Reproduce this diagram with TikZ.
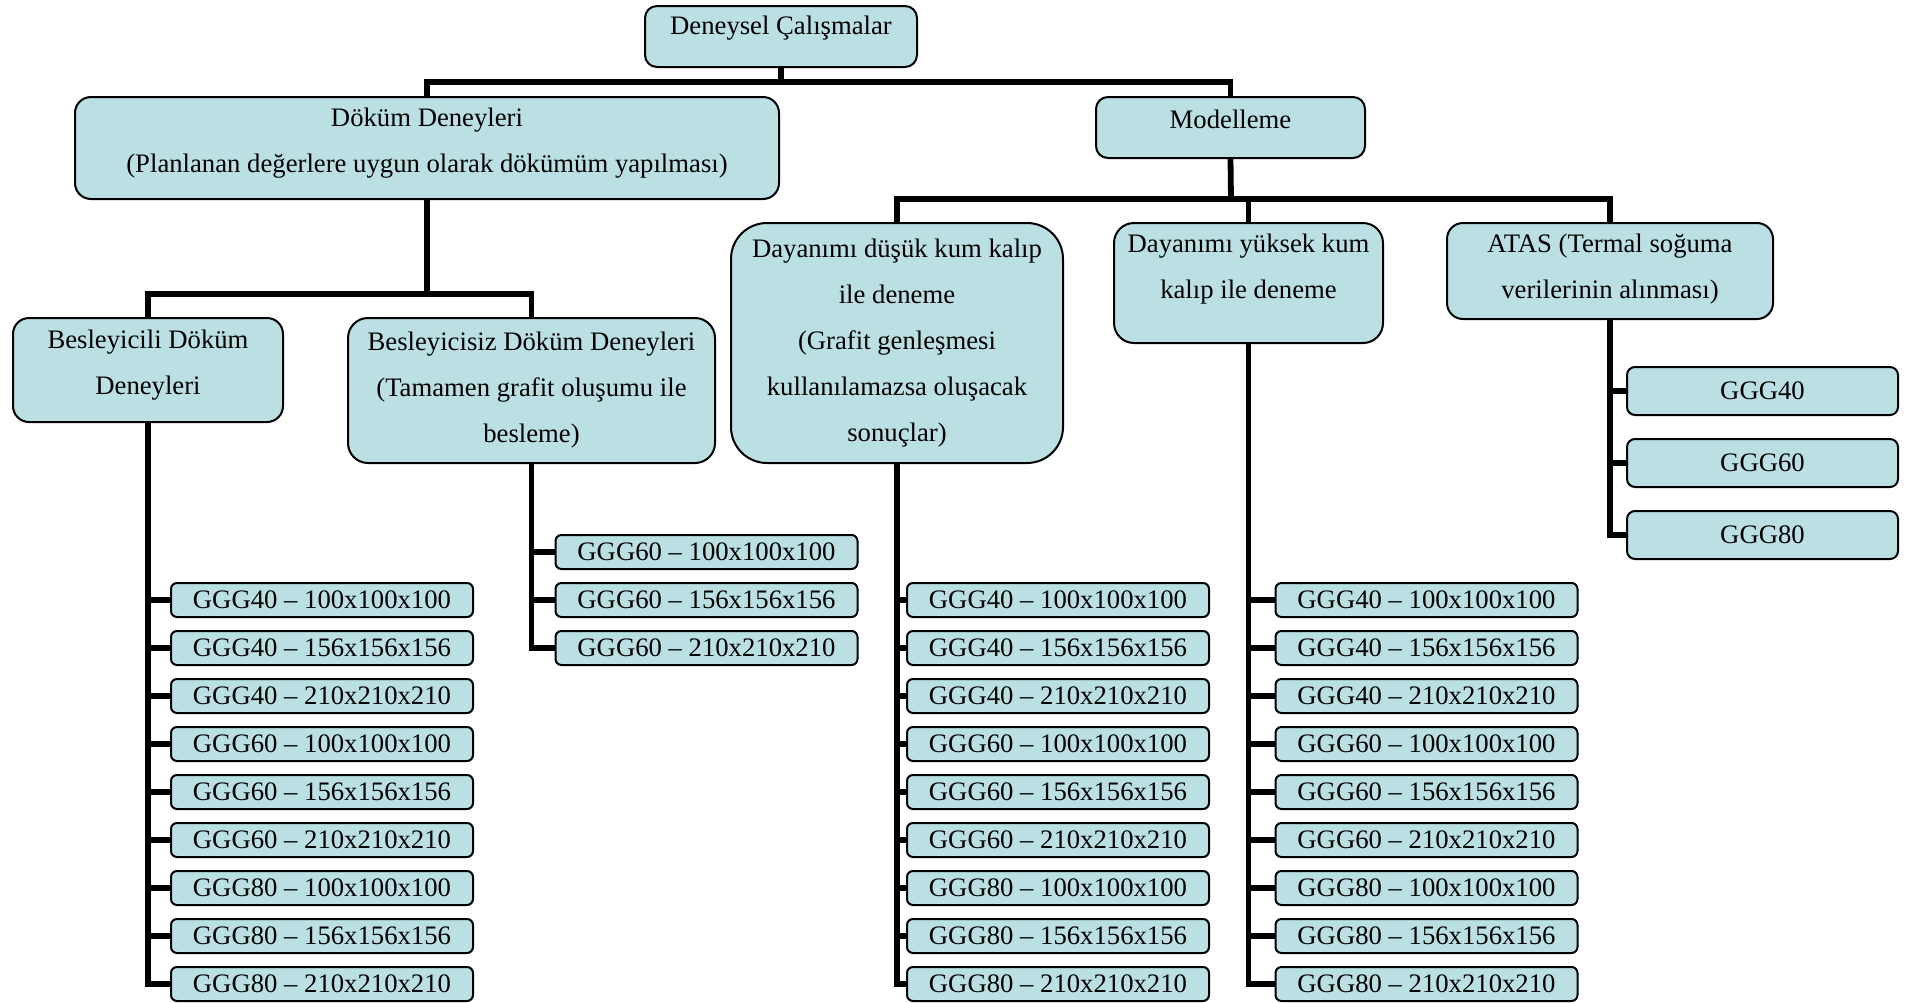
\documentclass[tikz,border=0pt]{standalone}
\usepackage{fontspec}
\setmainfont{Liberation Serif}
\definecolor{boxfill}{RGB}{186,224,228}
\tikzset{
  box/.style={draw=black, line width=2pt, fill=boxfill, inner sep=0pt},
  txt/.style={align=center, inner sep=0pt, font=\fontsize{26.7pt}{46pt}\selectfont},
  item/.style={box, rounded corners=6pt, minimum width=302pt, minimum height=34pt,
    font=\fontsize{26.7pt}{32pt}\selectfont},
  atasitem/.style={box, rounded corners=8pt, minimum width=271pt, minimum height=48pt,
    font=\fontsize{26.7pt}{32pt}\selectfont},
  conn/.style={draw=black, line width=5.8pt}
}
\newcommand\mybox[7]{%
  \node[box, rounded corners=#6pt, minimum width={(#4)-(#2)}, minimum height={(#5)-(#3)}]
    (#1) at ({((#2)+(#4))/2},{((#3)+(#5))/2}) {};
  \node[txt] (#1t) at ({((#2)+(#4))/2},#7) {\csname txt#1\endcsname};}
\begin{document}
\begin{tikzpicture}[x=1pt,y=-1pt]
\useasboundingbox (0,0) rectangle (1907,1002);
\expandafter\def\csname txttop\endcsname{Deneysel Çalışmalar}
\expandafter\def\csname txtdok\endcsname{Döküm Deneyleri\\(Planlanan değerlere uygun olarak dökümüm yapılması)}
\expandafter\def\csname txtmod\endcsname{Modelleme}
\expandafter\def\csname txtbes\endcsname{Besleyicili Döküm\\Deneyleri}
\expandafter\def\csname txtbsz\endcsname{Besleyicisiz Döküm Deneyleri\\(Tamamen grafit oluşumu ile\\besleme)}
\expandafter\def\csname txtdus\endcsname{Dayanımı düşük kum kalıp\\ile deneme\\(Grafit genleşmesi\\kullanılamazsa oluşacak\\sonuçlar)}
\expandafter\def\csname txtyuk\endcsname{Dayanımı yüksek kum\\kalıp ile deneme}
\expandafter\def\csname txtatas\endcsname{ATAS (Termal soğuma\\verilerinin alınması)}

\coordinate (j1) at (781,82);
\coordinate (j2) at (427,294);
\coordinate (j3) at (1231,199);

\mybox{top}{645}{6}{917}{67}{12}{28}
\mybox{dok}{75}{97}{779}{199}{16}{143}
\mybox{mod}{1096}{97}{1365}{158}{12}{119}
\mybox{bes}{13}{318}{283}{422}{16}{365}
\mybox{bsz}{348}{318}{715}{463}{20}{390}
\mybox{dus}{731}{223}{1063}{463}{36}{343}
\mybox{yuk}{1114}{223}{1383}{343}{20}{269}
\mybox{atas}{1447}{223}{1773}{319}{16}{269}

\draw[conn] (top.south) -- (j1);
\draw[conn] (dok.north) |- (j1) -| (mod.north);
\draw[conn] (dok.south) -- (j2);
\draw[conn] (bes.north) |- (j2) -| (bsz.north);
\draw[conn] (mod.south) -- (j3);
\draw[conn] (dus.north) |- (j3) -| (atas.north);
\draw[conn] (yuk.north) -- (yuk.north |- j3);

\foreach \t [count=\i] in {GGG40 – 100x100x100, GGG40 – 156x156x156, GGG40 – 210x210x210,
  GGG60 – 100x100x100, GGG60 – 156x156x156, GGG60 – 210x210x210,
  GGG80 – 100x100x100, GGG80 – 156x156x156, GGG80 – 210x210x210}{
  \node[item] (la\i) at (322,{552+48*\i}) {\t};
  \node[item] (lc\i) at (1058,{552+48*\i}) {\t};
  \node[item] (ld\i) at (1426.5,{552+48*\i}) {\t};
}
\foreach \t [count=\i] in {GGG60 – 100x100x100, GGG60 – 156x156x156, GGG60 – 210x210x210}{
  \node[item] (lb\i) at (706.5,{504+48*\i}) {\t};
}
\foreach \t [count=\i] in {GGG40, GGG60, GGG80}{
  \node[atasitem] (le\i) at (1762.5,{319+72*\i}) {\t};
}

\draw[conn] (bes.south) |- (la9.west);
\draw[conn] (bsz.south) |- (lb3.west);
\draw[conn] (dus.south) |- (lc9.west);
\draw[conn] (yuk.south) |- (ld9.west);
\draw[conn] (atas.south) |- (le3.west);
\foreach \i in {1,...,8}{
  \draw[conn] (bes.south |- la\i.west) -- (la\i.west);
  \draw[conn] (dus.south |- lc\i.west) -- (lc\i.west);
  \draw[conn] (yuk.south |- ld\i.west) -- (ld\i.west);
}
\foreach \i in {1,2}{
  \draw[conn] (bsz.south |- lb\i.west) -- (lb\i.west);
  \draw[conn] (atas.south |- le\i.west) -- (le\i.west);
}
\end{tikzpicture}
\end{document}
